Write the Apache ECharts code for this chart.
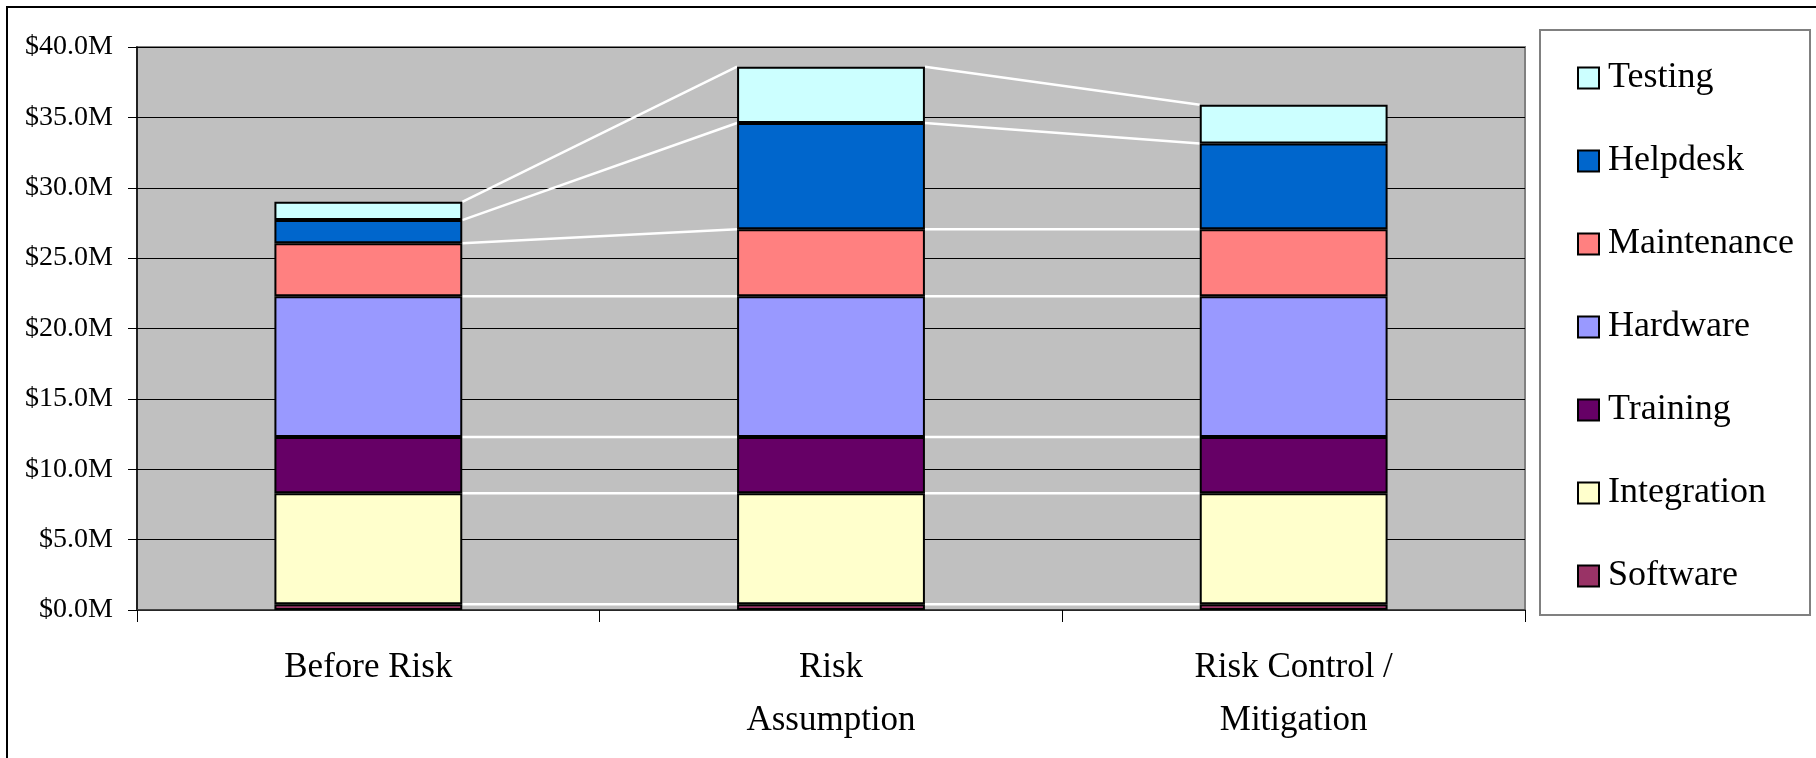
<!DOCTYPE html>
<html>
<head>
<meta charset="utf-8">
<script src="https://cdn.jsdelivr.net/npm/echarts@6/dist/echarts.min.js"></script>
<style>
html,body{margin:0;padding:0;background:#fff;}
#chart{width:1816px;height:758px;}
</style>
</head>
<body>
<div id="chart"></div>
<script>
// ---- data (values in $M) ----
const categories = ['Before Risk', 'Risk\nAssumption', 'Risk Control /\nMitigation'];
const seriesNames = ['Software', 'Integration', 'Training', 'Hardware', 'Maintenance', 'Helpdesk', 'Testing'];
const software    = [0.4, 0.4, 0.4];
const integration = [7.9, 7.9, 7.9];
const training    = [4.0, 4.0, 4.0];
const hardware    = [10.0, 10.0, 10.0];
const maintenance = [3.75, 4.75, 4.75];
const helpdesk    = [1.65, 7.55, 6.1];
const testing     = [1.3, 4.0, 2.75];
const yTicks = [0, 5, 10, 15, 20, 25, 30, 35, 40];

const seriesValues = [software, integration, training, hardware, maintenance, helpdesk, testing];
const colors = ['#993366', '#FFFFCC', '#660066', '#9999FF', '#FF8080', '#0066CC', '#CCFFFF'];
const BAR_RATIO = 0.406;
const FONT = 'Liberation Serif';

// cumulative tops of each series per category
const cum = [];
seriesValues.forEach((vals, s) => {
  cum.push(vals.map((v, i) => v + (s > 0 ? cum[s - 1][i] : 0)));
});

const barSeries = seriesNames.map((name, s) => ({
  name: name,
  type: 'bar',
  stack: 'total',
  barWidth: (BAR_RATIO * 100) + '%',
  data: seriesValues[s],
  itemStyle: { color: colors[s], borderColor: '#000', borderWidth: 2 },
  z: 3,
  emphasis: { disabled: true }
}));

// series lines (white connectors between bar tops)
const lineData = [];
cum.forEach((tops) => {
  for (let i = 0; i < tops.length - 1; i++) lineData.push([i, tops[i], tops[i + 1]]);
});
const connector = {
  type: 'custom',
  name: 'connectors',
  z: 2,
  silent: true,
  data: lineData,
  encode: { x: 0, y: 1 },
  renderItem: function (params, api) {
    const i = api.value(0);
    const p1 = api.coord([i, api.value(1)]);
    const p2 = api.coord([i + 1, api.value(2)]);
    const hw = api.size([1, 0])[0] * BAR_RATIO / 2;
    return {
      type: 'line',
      shape: { x1: p1[0] + hw, y1: p1[1], x2: p2[0] - hw, y2: p2[1] },
      style: { stroke: '#FFFFFF', lineWidth: 2.5 }
    };
  }
};

const chart = echarts.init(document.getElementById('chart'), null, { renderer: 'canvas' });
chart.setOption({
  animation: false,
  backgroundColor: '#FFFFFF',
  graphic: [
    { type: 'rect', shape: { x: 7, y: 7, width: 2000, height: 1000 },
      style: { fill: 'none', stroke: '#000', lineWidth: 2 }, z: 0 },
    { type: 'rect', shape: { x: 1540, y: 30, width: 270, height: 585 },
      style: { fill: '#FFFFFF', stroke: '#808080', lineWidth: 2 }, z: 0 }
  ],
  grid: {
    left: 137, top: 47, width: 1388, height: 563,
    show: true, backgroundColor: '#C0C0C0', borderColor: '#808080', borderWidth: 2
  },
  legend: {
    orient: 'vertical',
    left: 1572, top: 53,
    data: seriesNames.slice().reverse(),
    itemWidth: 21, itemHeight: 21, itemGap: 43,
    icon: 'rect',
    selectedMode: false,
    itemStyle: { borderColor: '#000', borderWidth: 2 },
    textStyle: { fontFamily: FONT, fontSize: 36, color: '#000', lineHeight: 40, padding: [0, 0, 0, 4] }
  },
  xAxis: {
    type: 'category',
    data: categories,
    axisLine: { lineStyle: { color: '#333', width: 1.5 } },
    axisTick: { show: true, length: 12, lineStyle: { color: '#000', width: 1 } },
    axisLabel: { fontFamily: FONT, fontSize: 35, color: '#000', lineHeight: 53, margin: 31 },
    splitLine: { show: false }
  },
  yAxis: {
    type: 'value',
    min: yTicks[0], max: yTicks[yTicks.length - 1], interval: yTicks[1] - yTicks[0],
    axisLine: { show: true, lineStyle: { color: '#000', width: 1.5 } },
    axisTick: { show: true, length: 9, lineStyle: { color: '#000', width: 1 } },
    axisLabel: {
      fontFamily: FONT, fontSize: 28, color: '#000', margin: 24, padding: [8, 0, 0, 0],
      formatter: v => '$' + v.toFixed(1) + 'M'
    },
    splitLine: { show: true, lineStyle: { color: '#000', width: 1 } }
  },
  series: barSeries.concat([connector])
});
</script>
</body>
</html>
